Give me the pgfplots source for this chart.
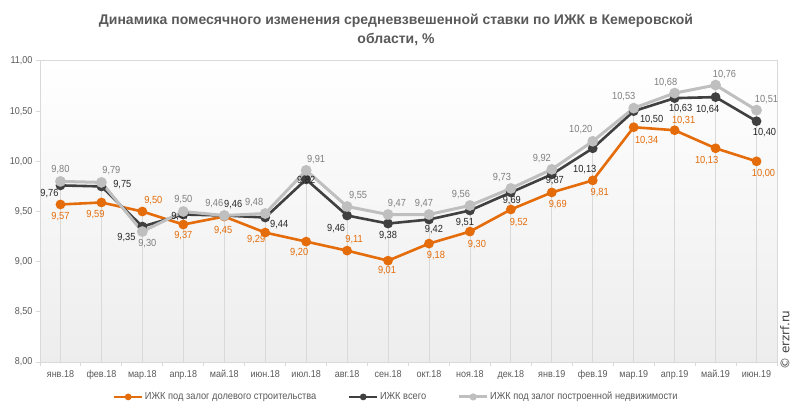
\documentclass[border=0pt]{standalone}
\usepackage{pgfplots}
\pgfplotsset{compat=1.18}
\usepackage{pgfplotstable}
\usepackage{fontspec}
\setmainfont{Liberation Sans}[FakeStretch=0.9]
\newfontfamily\titlefont{Liberation Sans}
\newfontfamily\dvs{DejaVu Sans}

\definecolor{cor}{HTML}{E46C0A}
\definecolor{cdk}{HTML}{404040}
\definecolor{clg}{HTML}{BFBFBF}
\definecolor{txt}{HTML}{595959}
\definecolor{axg}{HTML}{D9D9D9}
\definecolor{bgb}{HTML}{EDEDED}
\definecolor{glab}{HTML}{7F7F7F}

% x = month index, y = rate, dx/dy = label offset in pt
\pgfplotstableread{
x y dx dy
0 9.57 0 -12
1 9.59 -6 -12.6
2 9.50 11 11
3 9.37 0 -11
4 9.45 -1 -14.5
5 9.29 -9 -7
6 9.20 -7 -11.5
7 9.11 7 11
8 9.01 -1 -10
9 9.18 7 -11.5
10 9.30 7 -13
11 9.52 8 -13
12 9.69 6 -12
13 9.81 7 -12
14 10.34 13 -13
15 10.31 9 10
16 10.13 -9 -12
17 10.00 7 -12
}\tdol

\pgfplotstableread{
x y dx dy
0 9.76 -11 -8.6
1 9.75 21 2
2 9.35 -16 -11.5
3 9.47 -3 -2
4 9.46 9 11
5 9.44 14 -7
6 9.82 0 -1
7 9.46 -11 -13
8 9.38 0 -12.5
9 9.42 5 -10.5
10 9.51 -5 -12
11 9.69 1 -8
12 9.87 3 -6
13 10.13 -8 -21
14 10.50 18 -8
15 10.63 6 -10
16 10.64 -8 -12
17 10.40 8 -11
}\tall

\pgfplotstableread{
x y dx dy
0 9.80 0 11.4
1 9.79 10 12
2 9.30 5 -12
3 9.50 0 11.5
4 9.46 -10 11.5
5 9.48 -11 11
6 9.91 10 11
7 9.55 11 11
8 9.47 9 11
9 9.47 -5 11
10 9.56 -9 11
11 9.73 -9 11
12 9.92 -10 11
13 10.20 -12 12
14 10.53 -10 11.5
15 10.68 -9 11
16 10.76 9 11
17 10.51 10 11
}\tpostr

\pgfplotsset{
  lab/.style={
    nodes near coords={\pgfmathprintnumber[fixed,fixed zerofill,precision=2,use comma]{\pgfplotspointmeta}},
    visualization depends on={\thisrow{dx}\as\dx},
    visualization depends on={\thisrow{dy}\as\dy},
    every node near coord/.append style={anchor=center, inner sep=0pt,
      xshift=\dx, yshift=\dy, text=#1, font=\fontsize{10.3bp}{12bp}\selectfont},
  },
}

\begin{document}
\begin{tikzpicture}
\useasboundingbox (0,0) rectangle (792bp,415bp);
\node[font=\titlefont\fontsize{14bp}{19bp}\selectfont\bfseries, text=txt, align=center] at (396bp,385.5bp)
  {Динамика помесячного изменения средневзвешенной ставки по ИЖК в Кемеровской\\области, \%};
\node[rotate=90, font=\dvs\fontsize{12bp}{14bp}\selectfont, text=cdk] at (785bp,75bp) {© erzrf.ru};
\begin{axis}[
  at={(40bp,53bp)}, anchor=south west,
  scale only axis, width=737bp, height=301bp,
  xmin=-0.5, xmax=17.5, ymin=8, ymax=11,
  xtick={0,1,2,3,4,5,6,7,8,9,10,11,12,13,14,15,16,17},
  xticklabels={янв.18,фев.18,мар.18,апр.18,май.18,июн.18,июл.18,авг.18,сен.18,окт.18,ноя.18,дек.18,янв.19,фев.19,мар.19,апр.19,май.19,июн.19},
  minor xtick={-0.5,0.5,1.5,2.5,3.5,4.5,5.5,6.5,7.5,8.5,9.5,10.5,11.5,12.5,13.5,14.5,15.5,16.5,17.5},
  ytick={8,8.5,9,9.5,10,10.5,11},
  yticklabel style={/pgf/number format/.cd, fixed, fixed zerofill, precision=2, use comma},
  /pgf/number format/assume math mode=true,
  tick pos=left, tick align=outside,
  major tick length=4bp, minor tick length=4bp,
  major x tick style={draw=none},
  minor x tick style={draw=axg, line width=1bp},
  ytick style={draw=axg, line width=1bp},
  axis line style={draw=axg, line width=1bp},
  tick label style={font=\fontsize{10bp}{12bp}\selectfont, text=txt},
  xticklabel style={yshift=-1bp},
  axis background/.style={top color=white, bottom color=bgb},
  legend style={at={(0.483,-0.116)}, anchor=center, draw=none, fill=none,
    legend columns=3, font=\fontsize{10.3bp}{12bp}\selectfont, text=txt,
    nodes={inner xsep=1.5bp},
    /tikz/every even column/.append style={column sep=30bp}},
  legend image code/.code={\draw[mark repeat=2,mark phase=2,#1,mark size=2bp]
    plot coordinates {(0bp,0bp) (14bp,0bp) (28bp,0bp)};},
]
% drop lines
\addplot[ycomb, draw=axg, line width=0.8bp, no markers, forget plot] table[x=x,y=y] {\tpostr};
\addplot[ycomb, draw=axg, line width=0.8bp, no markers, forget plot] table[x=x,y=y] {\tall};
\addplot[ycomb, draw=axg, line width=0.8bp, no markers, forget plot] table[x=x,y=y] {\tdol};

\addplot[color=cor, line width=2.6bp, mark=*, mark size=3.5bp, mark options={fill=cor}, lab=cor]
  table[x=x,y=y] {\tdol};
\addlegendentry{ИЖК под  залог  долевого  строительства}
\addplot[color=cdk, line width=2.6bp, mark=*, mark size=3.5bp, mark options={fill=cdk}, lab=black!85]
  table[x=x,y=y] {\tall};
\addlegendentry{ИЖК  всего}
\addplot[color=clg, line width=3bp, mark=*, mark size=3.8bp, mark options={fill=clg}, lab=glab]
  table[x=x,y=y] {\tpostr};
\addlegendentry{ИЖК под  залог  построенной  недвижимости}
\end{axis}
\end{tikzpicture}
\end{document}
